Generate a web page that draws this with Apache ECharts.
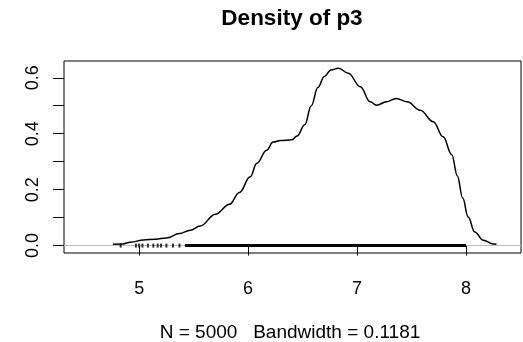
<!DOCTYPE html>
<html>
<head>
<meta charset="utf-8">
<script src="https://cdn.jsdelivr.net/npm/echarts@6/dist/echarts.min.js"></script>
<style>
  html, body { margin: 0; padding: 0; background: #fff; }
  #chart { width: 523px; height: 342px; }
</style>
</head>
<body>
<div id="chart"></div>
<script>
// density estimate
const densityX = [4.76, 4.85, 4.92, 5.04, 5.15, 5.25, 5.37, 5.47, 5.56, 5.70, 5.83, 5.92,
  6.02, 6.08, 6.17, 6.23, 6.30, 6.40, 6.45, 6.52, 6.58, 6.64, 6.70, 6.76, 6.83, 6.92,
  7.03, 7.12, 7.18, 7.27, 7.36, 7.46, 7.58, 7.70, 7.79, 7.87, 7.92, 7.97, 8.02,
  8.08, 8.16, 8.25, 8.28];
const densityY = [0.005, 0.006, 0.012, 0.020, 0.023, 0.027, 0.043, 0.055, 0.070, 0.112, 0.148, 0.19,
  0.246, 0.294, 0.341, 0.370, 0.376, 0.378, 0.392, 0.432, 0.500, 0.565, 0.605, 0.628, 0.634, 0.616,
  0.568, 0.514, 0.502, 0.514, 0.526, 0.514, 0.484, 0.443, 0.389, 0.325, 0.250, 0.170, 0.102,
  0.049, 0.019, 0.006, 0.005];

// rug: a few lone observations, then a solid band
const rugSparse = [4.83, 4.97, 5.0, 5.03, 5.08, 5.13, 5.17, 5.2, 5.25, 5.31, 5.37];
const rugDense = [5.42, 8.0];

const xTicks = [5, 6, 7, 8];
const yTicks = [0, 0.1, 0.2, 0.3, 0.4, 0.5, 0.6];
const yLabels = [0, 0.2, 0.4, 0.6];

const titleText = "Density of p3";
const xLabelText = "N = 5000   Bandwidth = 0.1181";

const FONT = "Liberation Sans, Arial, sans-serif";

const chart = echarts.init(document.getElementById("chart"));

const option = {
  animation: false,
  grid: {
    left: 64,
    right: 2,
    top: 61,
    bottom: 89,
    show: true,
    borderColor: "#000",
    borderWidth: 1
  },
  xAxis: {
    type: "value",
    min: 4.31,
    max: 8.505,
    axisLine: { show: false },
    splitLine: { show: false },
    axisTick: {
      show: true,
      customValues: xTicks,
      length: 10,
      lineStyle: { color: "#000", width: 1 }
    },
    axisLabel: {
      customValues: xTicks,
      margin: 27,
      fontSize: 18,
      color: "#000",
      fontFamily: FONT
    }
  },
  yAxis: {
    type: "value",
    min: -0.0265,
    max: 0.66,
    axisLine: { show: false },
    splitLine: { show: false },
    axisTick: {
      show: true,
      customValues: yTicks,
      length: 11,
      lineStyle: { color: "#000", width: 1 }
    },
    axisLabel: {
      customValues: yLabels,
      rotate: 90,
      margin: 22,
      fontSize: 18,
      color: "#000",
      fontFamily: FONT,
      formatter: v => v.toFixed(1)
    }
  },
  graphic: [
    {
      type: "text",
      x: 292,
      y: 19,
      style: {
        text: titleText,
        align: "center",
        verticalAlign: "middle",
        fontSize: 22.5,
        fontWeight: "bold",
        fontFamily: FONT,
        fill: "#000"
      }
    },
    {
      type: "text",
      x: 290,
      y: 333,
      style: {
        text: xLabelText,
        align: "center",
        verticalAlign: "middle",
        fontSize: 19,
        fontFamily: FONT,
        fill: "#000"
      }
    }
  ],
  series: [
    {
      type: "line",
      data: densityX.map((x, i) => [x, densityY[i]]),
      symbol: "none",
      smooth: 0.4,
      smoothMonotone: "x",
      lineStyle: { color: "#000", width: 1.5 },
      z: 3,
      markLine: {
        silent: true,
        symbol: "none",
        label: { show: false },
        lineStyle: { color: "#bebebe", type: "solid", width: 1 },
        data: [{ yAxis: 0 }],
        z: 1
      }
    },
    {
      type: "line",
      data: rugDense.map(x => [x, 0]),
      symbol: "none",
      lineStyle: { color: "#000", width: 3 },
      z: 4
    },
    {
      type: "scatter",
      data: rugSparse.map(x => [x, 0]),
      symbol: "rect",
      symbolSize: [2, 4],
      itemStyle: { color: "#000" },
      z: 4
    }
  ]
};

chart.setOption(option);
</script>
</body>
</html>
